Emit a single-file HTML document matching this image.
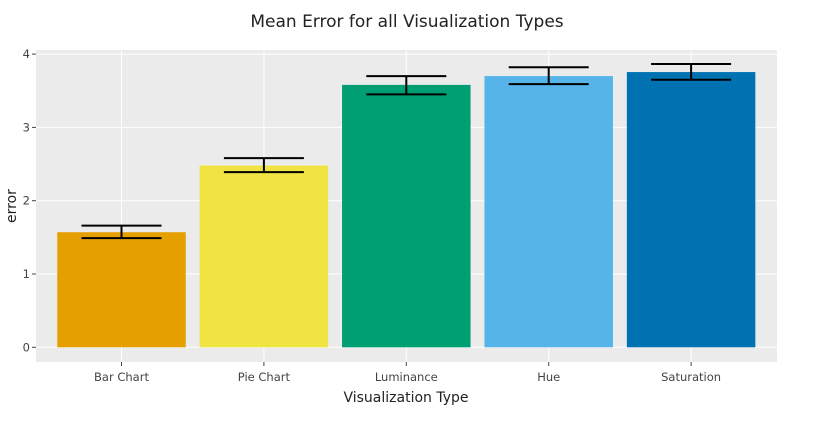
<!DOCTYPE html>
<html><head><meta charset="utf-8"><style>
body{margin:0;background:#fff;font-family:"DejaVu Sans","Liberation Sans",sans-serif}
</style></head><body>
<svg id="chart" width="834" height="420" xmlns="http://www.w3.org/2000/svg"></svg>
<script>
const categories=["Bar Chart","Pie Chart","Luminance","Hue","Saturation"];
const values=[1.57,2.48,3.58,3.70,3.755];
const errLow=[1.49,2.39,3.45,3.59,3.65];
const errHigh=[1.66,2.58,3.70,3.82,3.865];
const colors=["#E69F00","#F0E442","#009E73","#56B4E9","#0072B2"];
const yTicks=[0,1,2,3,4];
const NS="http://www.w3.org/2000/svg";
const svg=document.getElementById('chart');
function mk(t,a,p){const e=document.createElementNS(NS,t);for(const k in a)e.setAttribute(k,a[k]);(p||svg).appendChild(e);return e;}
const X0=36,X1=777,Y0=50,Y1=362;
const y=v=>347.3-v*73.3;
const xc=i=>121.5+142.4*i;
const bw=128.5;
const F='"DejaVu Sans","Liberation Sans",sans-serif';
const bg=mk('rect',{x:X0,y:Y0,width:X1-X0,height:Y1-Y0,fill:'#EBEBEB'});


yTicks.forEach(t=>{
 const g=mk('line',{x1:X0,x2:X1,y1:y(t),y2:y(t),stroke:'#fff','stroke-width':1});
 
 
 mk('line',{x1:X0-4,x2:X0,y1:y(t),y2:y(t),stroke:'#444'});
 const l=mk('text',{x:X0-6,y:y(t)+4,'text-anchor':'end','font-size':11.5,fill:'#444','font-family':F});
 l.textContent=t;
 
 
});
categories.forEach((c,i)=>{
 const g=mk('line',{x1:xc(i),x2:xc(i),y1:Y0,y2:Y1,stroke:'#fff','stroke-width':1});
 
 
});
categories.forEach((c,i)=>{
 const b=mk('rect',{x:xc(i)-bw/2,y:y(values[i]),width:bw,height:y(0)-y(values[i]),fill:colors[i]});
 
 
 const eg=mk('g',{stroke:'#000','stroke-width':2});
 
 
 mk('line',{x1:xc(i),x2:xc(i),y1:y(errLow[i]),y2:y(errHigh[i])},eg);
 mk('line',{x1:xc(i)-40,x2:xc(i)+40,y1:y(errLow[i]),y2:y(errLow[i])},eg);
 mk('line',{x1:xc(i)-40,x2:xc(i)+40,y1:y(errHigh[i]),y2:y(errHigh[i])},eg);
 mk('line',{x1:xc(i),x2:xc(i),y1:Y1,y2:Y1+4,stroke:'#444'});
 const l=mk('text',{x:xc(i),y:381,'text-anchor':'middle','font-size':11.5,fill:'#444','font-family':F});
 l.textContent=c;
 
 
});
const t=mk('text',{x:407,y:27,'text-anchor':'middle','font-size':17,fill:'#222','font-family':F});
t.textContent='Mean Error for all Visualization Types';


const xt=mk('text',{x:406,y:402,'text-anchor':'middle','font-size':14,fill:'#222','font-family':F});
xt.textContent='Visualization Type';


const yt=mk('text',{x:0,y:0,'text-anchor':'middle','font-size':14,fill:'#222','font-family':F,transform:'translate(16,206) rotate(-90)'});
yt.textContent='error';


</script>
</body></html>
